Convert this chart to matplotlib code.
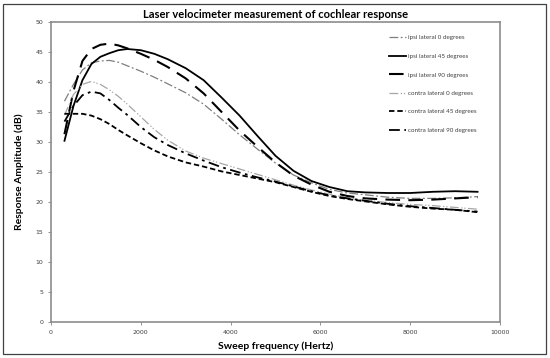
import matplotlib
matplotlib.use("Agg")
import matplotlib.pyplot as plt
from matplotlib.patches import Rectangle

freq = [300, 500, 700, 900, 1100, 1300, 1500, 1700, 2000, 2300, 2600, 3000, 3400,
        3800, 4200, 4600, 5000, 5400, 5800, 6200, 6600, 7000, 7500, 8000, 8500, 9000, 9500]

ipsi_0 = [36.8, 39.6, 42.0, 43.2, 43.5, 43.6, 43.3, 42.7, 41.8, 40.8, 39.7, 38.2, 36.3,
          33.8, 31.2, 28.8, 26.5, 24.5, 23.2, 22.1, 21.5, 21.2, 20.8, 20.6, 20.6, 20.7, 20.9]
ipsi_45 = [30.2, 36.0, 40.3, 43.0, 44.2, 44.8, 45.3, 45.5, 45.3, 44.7, 43.8, 42.3, 40.3,
           37.4, 34.4, 31.0, 27.7, 25.2, 23.5, 22.5, 21.8, 21.6, 21.5, 21.5, 21.7, 21.8, 21.7]
ipsi_90 = [31.3, 38.5, 43.5, 45.5, 46.2, 46.4, 46.1, 45.6, 44.7, 43.7, 42.5, 40.6, 38.1,
           35.0, 31.9, 29.2, 26.6, 24.4, 22.9, 21.7, 21.0, 20.6, 20.4, 20.3, 20.4, 20.6, 20.8]
contra_0 = [34.5, 37.9, 39.6, 40.1, 39.6, 38.7, 37.6, 36.3, 34.2, 32.1, 30.3, 28.5, 27.3,
            26.4, 25.5, 24.6, 23.7, 22.8, 22.0, 21.3, 20.7, 20.3, 19.9, 19.6, 19.4, 19.1, 18.8]
contra_45 = [34.7, 34.7, 34.7, 34.4, 33.8, 33.0, 32.0, 31.1, 29.8, 28.6, 27.6, 26.6, 25.9,
             25.1, 24.5, 23.9, 23.3, 22.5, 21.7, 21.0, 20.5, 20.1, 19.6, 19.2, 18.9, 18.7, 18.3]
contra_90 = [33.4, 36.0, 37.8, 38.4, 38.1, 37.0, 35.7, 34.5, 32.5, 30.8, 29.5, 28.1, 26.9,
             25.8, 24.9, 24.1, 23.4, 22.6, 21.8, 21.1, 20.6, 20.2, 19.7, 19.3, 19.0, 18.7, 18.4]

labels = ["ipsi lateral 0 degrees", "ipsi lateral 45 degrees", "ipsi lateral 90 degrees",
          "contra lateral 0 degrees", "contra lateral 45 degrees", "contra lateral 90 degrees"]
x_ticks = [0, 2000, 4000, 6000, 8000, 10000]
y_ticks = [0, 5, 10, 15, 20, 25, 30, 35, 40, 45, 50]

fig = plt.figure(figsize=(5.5, 3.58), dpi=100)
fig.patches.append(Rectangle((3/550, 1-354/358), 543/550, 350/358, transform=fig.transFigure,
                             fill=False, edgecolor="#404040", linewidth=0.9))
ax = fig.add_axes([51/550, 1-322/358, 449/550, 300/358])

styles = [
    dict(color="#7f7f7f", lw=0.9, dashes=(7, 2, 1.5, 2)),
    dict(color="black", lw=1.3, linestyle="-"),
    dict(color="black", lw=1.5, dashes=(7, 4)),
    dict(color="#a6a6a6", lw=0.9, dashes=(7, 2, 1, 1.5, 1, 2)),
    dict(color="black", lw=1.3, dashes=(3, 1.6)),
    dict(color="black", lw=1.3, dashes=(6, 2.5, 1.5, 2.5)),
]
series = [ipsi_0, ipsi_45, ipsi_90, contra_0, contra_45, contra_90]
for s, lab, st in zip(series, labels, styles):
    ax.plot(freq, s, label=lab, **st)

ax.set_xlim(0, 10000)
ax.set_ylim(0, 50)
ax.set_xticks(x_ticks)
ax.set_yticks(y_ticks)
ax.tick_params(labelsize=4.5, labelcolor="#404040", length=2, width=0.6, color="#808080")
for sp in ax.spines.values():
    sp.set_color("#8c8c8c")
    sp.set_linewidth(1.2)

ax.set_title("Laser velocimeter measurement of cochlear response", fontsize=8,
             fontweight="bold", family="Lato", pad=3)
ax.set_xlabel("Sweep frequency (Hertz)", fontsize=7.5, fontweight="bold", family="Lato", labelpad=5)
ax.set_ylabel("Response Amplitude (dB)", fontsize=7.5, fontweight="bold", family="Lato", labelpad=8)

leg = ax.legend(loc="upper left", bbox_to_anchor=(0.74, 0.975), frameon=False,
                prop=dict(family="Lato", size=4.5), labelspacing=2.1,
                handlelength=2.8, handletextpad=0.2)
for t in leg.get_texts():
    t.set_color("#404040")

fig.savefig("out.png", dpi=100)
